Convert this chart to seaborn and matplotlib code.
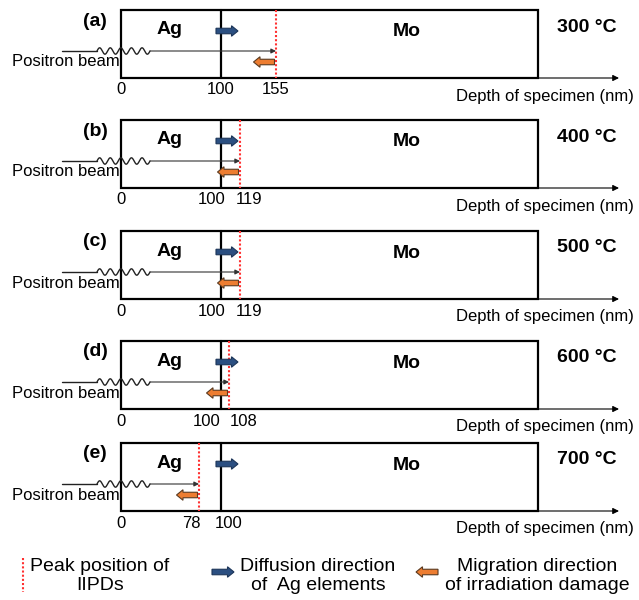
import numpy as np
import pandas as pd
import matplotlib
matplotlib.use("Agg")
import matplotlib.pyplot as plt
import seaborn as sns
from matplotlib.patches import Rectangle, FancyArrow

# ---------------- data ----------------
panel_labels = ["(a)", "(b)", "(c)", "(d)", "(e)"]
temperatures = ["300 °C", "400 °C", "500 °C", "600 °C", "700 °C"]
surface_depth = 0
interface_depth = 100          # Ag / Mo interface (nm)
peak_depth = [155, 119, 119, 108, 78]   # IIPD peak position (nm)
layer_names = ["Ag", "Mo"]
axis_label = "Depth of specimen (nm)"
beam_label = "Positron beam"
legend_texts = ["Peak position of\nIIPDs",
                "Diffusion direction\nof  Ag elements",
                "Migration direction\nof irradiation damage"]

# ---------------- style ----------------
sns.set_theme(style="white")
plt.rcParams['font.family'] = ['Liberation Sans', 'DejaVu Sans']
plt.rcParams['text.color'] = 'black'

RED = "#FF3030"
BLUE = "#2B4F81"
BLUE_EC = "#1C3558"
ORANGE = "#ED7D31"
ORANGE_EC = "#5A3A20"

fig = plt.figure(figsize=(6.39, 6.0), dpi=100)
ax = fig.add_axes([0, 0, 1, 1])

# x axis in nm (linear scale), y axis in layout pixels (top = 0)
X0_PX = 121.0
PX_PER_NM = 1.0


def nm(px):
    return (px - X0_PX) / PX_PER_NM


ax.set_xlim(nm(0), nm(639))
ax.set_ylim(600, 0)
ax.axis('off')

tops = [10, 120, 231, 341, 443]
H = 68
box_right = nm(538)
axis_end = nm(619)


def fat_arrow(x_from, x_to, y, fc, ec):
    ax.add_patch(FancyArrow(x_from, y, x_to - x_from, 0, width=5.5,
                            head_width=10.5, head_length=6.5 / PX_PER_NM,
                            length_includes_head=True, fc=fc, ec=ec,
                            lw=0.8, zorder=5))


# peak lines as a long table, drawn by seaborn
peak_rows = []
for i, p in enumerate(peak_depth):
    peak_rows.append(dict(panel=i, depth=p, y=tops[i]))
    peak_rows.append(dict(panel=i, depth=p, y=tops[i] + H))
peak_df = pd.DataFrame(peak_rows)
sns.lineplot(data=peak_df, x="depth", y="y", units="panel", estimator=None,
             sort=False, color=RED, lw=1.5, linestyle=(0, (1, 1)), ax=ax,
             zorder=4, legend=False)

for i in range(5):
    top = tops[i]
    bot = top + H
    p = peak_depth[i]

    # specimen box and interface
    ax.add_patch(Rectangle((surface_depth, top), box_right - surface_depth, H,
                           fill=False, ec="black", lw=1.6, zorder=3))
    ax.plot([interface_depth, interface_depth], [top, bot], color="black",
            lw=1.6, zorder=3)

    # depth axis
    ax.annotate("", xy=(axis_end, bot), xytext=(surface_depth, bot),
                arrowprops=dict(arrowstyle="-|>", lw=0.8, color="black",
                                mutation_scale=9, shrinkA=0, shrinkB=0),
                zorder=2)
    ax.text(nm(634), bot + 18, axis_label, ha="right", va="center",
            fontsize=12)

    # tick labels (spread apart slightly when too close to read)
    ax.text(surface_depth, bot + 12, "0", ha="center", va="center", fontsize=12)
    xi, xp = interface_depth, p
    sep_px = abs(xp - xi) * PX_PER_NM
    MIN_SEP = 37
    if sep_px < MIN_SEP:
        mid = (xi + xp) / 2
        half = MIN_SEP / 2 / PX_PER_NM
        if xp > xi:
            xi_lab, xp_lab = mid - half, mid + half
        else:
            xi_lab, xp_lab = mid + half, mid - half
    else:
        xi_lab, xp_lab = xi, xp
    ax.text(xi_lab, bot + 12, str(interface_depth), ha="center", va="center",
            fontsize=12)
    ax.text(xp_lab, bot + 12, str(p), ha="center", va="center", fontsize=12)

    # labels
    ax.text(nm(95), top + 11, panel_labels[i], ha="center", va="center",
            fontsize=14, fontweight="bold")
    ax.text(nm(170), top + 20, layer_names[0], ha="center", va="center",
            fontsize=14, fontweight="bold")
    ax.text(nm(407), top + 22, layer_names[1], ha="center", va="center",
            fontsize=14, fontweight="bold")
    ax.text(nm(587), top + 17, temperatures[i], ha="center", va="center",
            fontsize=14, fontweight="bold")

    # positron beam
    base = top + 41
    ax.plot([nm(62), nm(97)], [base, base], color="#222222", lw=1.0, zorder=4)
    t = np.linspace(0, 1, 200)
    wave = pd.DataFrame(dict(x=nm(97) + t * (nm(150) - nm(97)),
                             y=base - 3.2 * np.sin(2 * np.pi * 5 * t)))
    sns.lineplot(data=wave, x="x", y="y", estimator=None, sort=False,
                 color="#222222", lw=1.0, ax=ax, zorder=4)
    ax.annotate("", xy=(p, base), xytext=(nm(150), base),
                arrowprops=dict(arrowstyle="-|>", lw=0.8, color="#333333",
                                mutation_scale=7, shrinkA=0, shrinkB=0),
                zorder=4)
    ax.text(nm(12), top + 52, beam_label, ha="left", va="center", fontsize=12)

    # direction arrows
    fat_arrow(interface_depth - 5 / PX_PER_NM, interface_depth + 17 / PX_PER_NM,
              top + 21, BLUE, BLUE_EC)
    fat_arrow(p - 1.5 / PX_PER_NM, p - 22.5 / PX_PER_NM, top + 52,
              ORANGE, ORANGE_EC)

# ---------------- legend ----------------
ax.plot([nm(23), nm(23)], [558, 592], color=RED, lw=1.5,
        linestyle=(0, (1, 1)))
ax.text(nm(100), 576, legend_texts[0], ha="center", va="center",
        multialignment="center", fontsize=14, linespacing=1.15)
fat_arrow(nm(212), nm(234), 572, BLUE, BLUE_EC)
ax.text(nm(318), 576, legend_texts[1], ha="center", va="center",
        multialignment="center", fontsize=14, linespacing=1.15)
fat_arrow(nm(438), nm(416), 572, ORANGE, ORANGE_EC)
ax.text(nm(537), 576, legend_texts[2], ha="center", va="center",
        multialignment="center", fontsize=14, linespacing=1.15)

fig.savefig("out.png", dpi=100)
